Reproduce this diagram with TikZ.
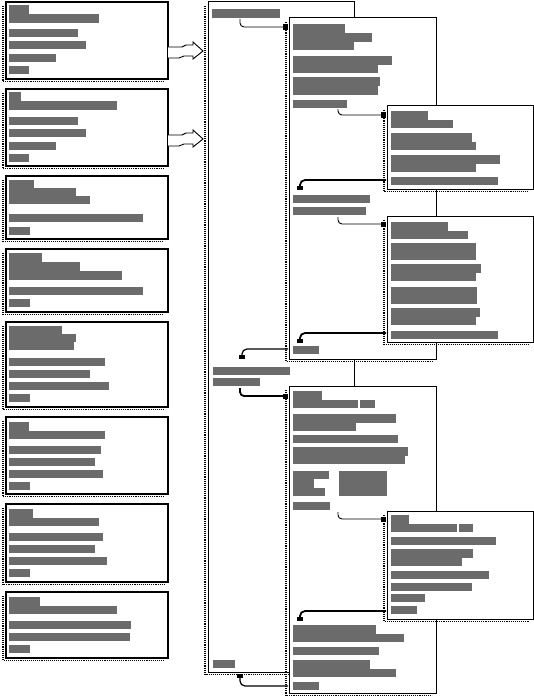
\documentclass[tikz,border=0pt]{standalone}
\usetikzlibrary{arrows.meta}
\newcommand\mkbox[6]{%
  \draw[shad] ({#2-3},{#3+4}) -- ({#2-3},{#5+2.5}) -- ({#4-4},{#5+2.5});
  \node[#6,anchor=north west,inner sep=0pt,outer sep=0pt,minimum width={(#4-#2)*1pt},minimum height={(#5-#3)*1pt}] (#1) at (#2,#3) {};}
\begin{document}
\begin{tikzpicture}[x=1pt,y=-1pt,
  boxs/.style={draw=black,fill=white,line width=1pt},
  lbox/.style={draw=black,fill=white,line width=1.4pt},
  tbox/.style={draw=black,fill=white,line width=2pt},
  shad/.style={draw=black,densely dotted,line width=1.1pt},
  tbar/.style={fill=black!58},
  fwd/.style={draw=black,line width=0.9pt,rounded corners=4pt,-{Rectangle[length=5pt,width=5pt]}},
  ret/.style={draw=black,line width=1.8pt,rounded corners=5pt,-{Rectangle[length=4pt,width=6pt]}},
  harrow/.style={draw=black,fill=white,line width=0.9pt,line join=miter}]
\useasboundingbox[fill=white] (0,0) rectangle (534,698);
% container
\mkbox{cont}{208}{2}{354}{672}{boxs}
% left boxes
\mkbox{L1}{6}{2}{168}{79}{tbox}
\mkbox{L2}{6}{89}{168}{166}{lbox}
\mkbox{L3}{6}{176}{168}{239}{lbox}
\mkbox{L4}{6}{249}{168}{312}{lbox}
\mkbox{L5}{6}{322}{168}{407}{lbox}
\mkbox{L6}{6}{417}{168}{494}{lbox}
\mkbox{L7}{6}{504}{168}{582}{tbox}
\mkbox{L8}{6}{592}{168}{658}{lbox}
% block arrows
\foreach \cy in {51,139}
  \draw[harrow] (168,{\cy-4}) -- (182,{\cy-4}) -- (186,{\cy-6}) -- (193,{\cy-6}) -- (193,{\cy-9}) -- (203,\cy) -- (193,{\cy+8}) -- (193,{\cy+5}) -- (184,{\cy+5}) -- (179,{\cy+7}) -- (168,{\cy+7});
% right boxes
\mkbox{A}{289}{18}{436}{359}{boxs}
\mkbox{B}{387}{106}{533}{189}{boxs}
\mkbox{B2}{387}{216}{533}{342}{boxs}
\mkbox{C}{289}{386}{436}{693}{boxs}
\mkbox{D}{387}{511}{533}{619}{boxs}
% text bars (illegible text)
\foreach \a/\b/\c/\d in {
 9/29/5/14, 9/99/14/23, 9/78/29/37, 9/86/41/49, 9/56/54/62, 9/29/66/74,
 9/21/92/101, 9/117/101/110, 9/78/117/125, 9/86/129/137, 9/56/142/150, 9/29/154/162,
 9/34/180/188, 9/76/188/196, 9/90/196/204, 9/143/214/222, 9/30/227/235,
 9/42/253/262, 9/80/262/271, 9/122/271/280, 9/143/287/295, 9/30/299/307,
 9/62/326/334, 9/76/334/342, 9/74/342/350, 9/105/358/366, 9/90/370/378, 9/109/382/390, 9/30/394/402,
 9/29/422/431, 9/105/431/439, 9/101/446/454, 9/95/458/466, 9/103/470/478, 9/30/482/490,
 9/33/509/518, 9/99/518/526, 9/103/533/541, 9/95/545/553, 9/107/557/565, 9/30/569/577,
 9/40/597/606, 9/117/606/614, 9/131/621/629, 9/130/633/641, 9/30/645/653}
  \fill[tbar] (\a,\c) rectangle (\b,\d);
\foreach \a/\b/\c/\d in {
 212/280/9/18, 213/290/367/375, 213/260/378/386, 213/235/660/668,
 293/345/24/33, 293/372/33/42, 293/354/42/50, 293/392/56/65, 293/378/65/73, 293/380/77/86, 293/378/86/95, 293/347/100/108, 293/370/195/203, 293/366/207/215, 293/319/346/354,
 391/428/111/120, 391/453/120/128, 391/472/133/142, 391/476/142/150, 391/500/155/164, 391/476/164/172, 391/498/177/185,
 391/448/222/231, 391/468/231/239, 391/476/243/252, 391/476/252/260, 391/481/264/273, 391/476/273/281, 391/477/287/296, 391/477/296/304, 391/480/308/317, 391/476/317/325, 391/498/331/339,
 293/322/391/400, 293/358/400/408, 360/375/400/408, 293/396/414/423, 293/356/423/431, 293/398/435/443, 293/408/447/456, 293/405/456/464, 293/329/471/479, 293/314/479/488, 293/325/488/496, 339/387/471/479, 339/387/479/488, 339/387/488/496, 293/330/502/510,
 293/376/625/634, 293/404/634/642, 293/379/647/655, 293/370/660/669, 293/396/669/677, 293/319/682/690,
 391/409/515/524, 391/457/524/532, 459/473/524/532, 391/496/537/545, 391/473/549/558, 391/462/558/566, 391/489/571/579, 391/472/583/591, 391/425/594/602, 391/417/606/614}
  \fill[tbar] (\a,\c) rectangle (\b,\d);
% connector end points
\coordinate (f1s) at (240,19);  \coordinate (f1e) at (288,27);
\coordinate (f2s) at (338,109); \coordinate (f2e) at (386,115);
\coordinate (f3s) at (338,217); \coordinate (f3e) at (386,224);
\coordinate (f4s) at (240,388); \coordinate (f4e) at (288,396);
\coordinate (f5s) at (338,512); \coordinate (f5e) at (386,519);
\coordinate (r1s) at (386,180); \coordinate (r1e) at (300,190);
\coordinate (r2s) at (386,333); \coordinate (r2e) at (300,343);
\coordinate (r3s) at (288,349); \coordinate (r3e) at (242,359);
\coordinate (r4s) at (386,611); \coordinate (r4e) at (300,621);
\coordinate (r5s) at (288,686); \coordinate (r5e) at (240,674);
\draw[fwd] (f1s) |- (f1e);
\draw[fwd] (f2s) |- (f2e);
\draw[fwd] (f3s) |- (f3e);
\draw[fwd,line width=1.8pt] (f4s) |- (f4e);
\draw[fwd] (f5s) |- (f5e);
\draw[ret] (r1s) -| (r1e);
\draw[ret] (r2s) -| (r2e);
\draw[ret,line width=1.2pt] (r3s) -| (r3e);
\draw[ret] (r4s) -| (r4e);
\draw[ret,line width=1.2pt] (r5s) -| (r5e);
\end{tikzpicture}
\end{document}
